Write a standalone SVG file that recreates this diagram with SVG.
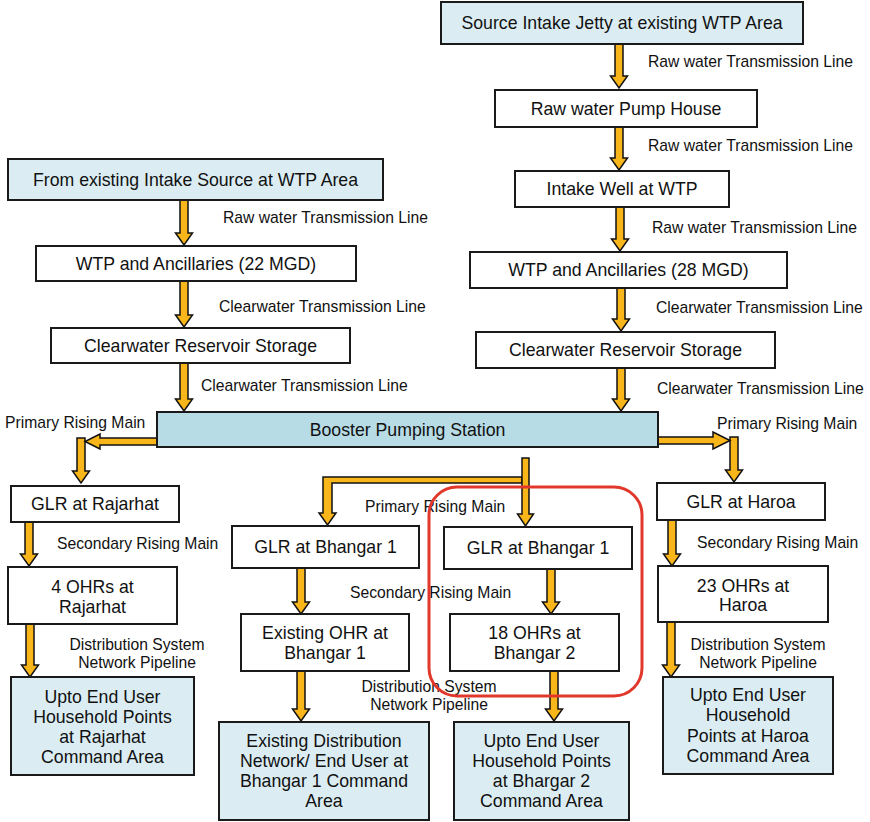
<svg xmlns="http://www.w3.org/2000/svg" width="870" height="822" viewBox="0 0 870 822">
  <style>
    .box { fill: #ffffff; stroke: #1a1a1a; stroke-width: 2; }
    .end { fill: #dbedf3; stroke: #1a1a1a; stroke-width: 2; }
    .hub { fill: #b7dce6; stroke: #1a1a1a; stroke-width: 2; }
    .arr { fill: #f8b61b; stroke: #111111; stroke-width: 1.5; stroke-linejoin: miter; }
    .t { font-family: "Liberation Sans", Arial, sans-serif; font-size: 17.7px; fill: #111111; text-anchor: middle; }
    .lbl { font-family: "Liberation Sans", Arial, sans-serif; font-size: 15.7px; fill: #111111; }
    .mid { text-anchor: middle; }
    .mark { fill: none; stroke: #e1382b; stroke-width: 3; }
  </style>

  <!-- Flow arrows and their labels -->
  <g id="connectors">
    <!-- right supply chain -->
    <polygon class="arr" points="615,44 623,44 623,76 627.5,76 619,88 610.5,76 615,76"/>
    <polygon class="arr" points="615,127 623,127 623,158 627.5,158 619,170 610.5,158 615,158"/>
    <polygon class="arr" points="616,207 624,207 624,239 628.5,239 620,251 611.5,239 616,239"/>
    <polygon class="arr" points="617,288 625,288 625,319 629.5,319 621,331 612.5,319 617,319"/>
    <polygon class="arr" points="617,368 625,368 625,399 629.5,399 621,411 612.5,399 617,399"/>
    <!-- left supply chain -->
    <polygon class="arr" points="180,200 188,200 188,233 192.5,233 184,245 175.5,233 180,233"/>
    <polygon class="arr" points="180,281 188,281 188,315 192.5,315 184,327 175.5,315 180,315"/>
    <polygon class="arr" points="180,363 188,363 188,399 192.5,399 184,411 175.5,399 180,399"/>

    <!-- booster to Rajarhat (elbow) -->
    <polygon class="arr" points="77,438 85,438 85,471 89.5,471 81,483 72.5,471 77,471"/>
    <polygon class="arr" points="157,438 100,438 100,434 85,441.5 100,449 100,445 157,445"/>
    <!-- booster to Haroa (elbow) -->
    <polygon class="arr" points="730,437 738,437 738,470 742.5,470 734,482 725.5,470 730,470"/>
    <polygon class="arr" points="658,437 713,437 713,432 730,440.5 713,449 713,444 658,444"/>
    <!-- booster to both Bhangar GLRs -->
    <polygon class="arr" points="323,477 522,477 522,483 332,483 332,513 336,513 327.5,525 319,513 323,513"/>
    <polygon class="arr" points="522,458 529,458 529,514 533.5,514 525.5,526 517.5,514 522,514"/>

    <!-- Rajarhat branch -->
    <polygon class="arr" points="25,522 33,522 33,554 37.5,554 29,566 20.5,554 25,554"/>
    <polygon class="arr" points="26,624 34,624 34,665 38.5,665 30,677 21.5,665 26,665"/>
    <!-- Bhangar 1 branch -->
    <polygon class="arr" points="297,568 305,568 305,602 309.5,602 301,614 292.5,602 297,602"/>
    <polygon class="arr" points="297,671 305,671 305,709 309.5,709 301,721 292.5,709 297,709"/>
    <!-- Bhangar 2 branch -->
    <polygon class="arr" points="547,569 555,569 555,602 559.5,602 551,614 542.5,602 547,602"/>
    <polygon class="arr" points="550,671 558,671 558,709 562.5,709 554,721 545.5,709 550,709"/>
    <!-- Haroa branch -->
    <polygon class="arr" points="668,520 676,520 676,554 680.5,554 672,566 663.5,554 668,554"/>
    <polygon class="arr" points="667,622 675,622 675,665 679.5,665 671,677 662.5,665 667,665"/>

    <g id="connector-labels">
      <text class="lbl" x="648" y="67">Raw water Transmission Line</text>
      <text class="lbl" x="648" y="151">Raw water Transmission Line</text>
      <text class="lbl" x="652" y="233">Raw water Transmission Line</text>
      <text class="lbl" x="656" y="313">Clearwater Transmission Line</text>
      <text class="lbl" x="657" y="394">Clearwater Transmission Line</text>
      <text class="lbl" x="223" y="223">Raw water Transmission Line</text>
      <text class="lbl" x="219" y="312">Clearwater Transmission Line</text>
      <text class="lbl" x="201" y="391">Clearwater Transmission Line</text>
      <text class="lbl" x="5" y="428">Primary Rising Main</text>
      <text class="lbl" x="717" y="429">Primary Rising Main</text>
      <text class="lbl" x="365" y="512">Primary Rising Main</text>
      <text class="lbl" x="57" y="549">Secondary Rising Main</text>
      <text class="lbl" x="697" y="548">Secondary Rising Main</text>
      <text class="lbl" x="350" y="598">Secondary Rising Main</text>
      <text class="lbl mid" x="137" y="650">Distribution System</text>
      <text class="lbl mid" x="137" y="668">Network Pipeline</text>
      <text class="lbl mid" x="429" y="692">Distribution System</text>
      <text class="lbl mid" x="429" y="710">Network Pipeline</text>
      <text class="lbl mid" x="758" y="650">Distribution System</text>
      <text class="lbl mid" x="758" y="668">Network Pipeline</text>
    </g>
  </g>

  <!-- Right supply chain -->
  <g id="source-intake-jetty">
    <rect class="end" x="441" y="2" width="362" height="42"/>
    <text class="t" x="622" y="29">Source Intake Jetty at existing WTP Area</text>
  </g>
  <g id="raw-water-pump-house">
    <rect class="box" x="495" y="90" width="262" height="37"/>
    <text class="t" x="626" y="115">Raw water Pump House</text>
  </g>
  <g id="intake-well">
    <rect class="box" x="515" y="171" width="214" height="36"/>
    <text class="t" x="622" y="195">Intake Well at WTP</text>
  </g>
  <g id="wtp-28">
    <rect class="box" x="470" y="252" width="317" height="36"/>
    <text class="t" x="628.5" y="276">WTP and Ancillaries (28 MGD)</text>
  </g>
  <g id="clearwater-right">
    <rect class="box" x="476" y="332" width="299" height="36"/>
    <text class="t" x="625.5" y="356">Clearwater Reservoir Storage</text>
  </g>

  <!-- Left supply chain -->
  <g id="existing-intake">
    <rect class="end" x="8" y="159" width="375" height="41"/>
    <text class="t" x="195.5" y="186">From existing Intake Source at WTP Area</text>
  </g>
  <g id="wtp-22">
    <rect class="box" x="36" y="246" width="320" height="35"/>
    <text class="t" x="196" y="270">WTP and Ancillaries (22 MGD)</text>
  </g>
  <g id="clearwater-left">
    <rect class="box" x="51" y="328" width="299" height="35"/>
    <text class="t" x="200.5" y="352">Clearwater Reservoir Storage</text>
  </g>

  <!-- Booster -->
  <g id="booster">
    <rect class="hub" x="157" y="412" width="501" height="35"/>
    <text class="t" x="407.5" y="436">Booster Pumping Station</text>
  </g>

  <!-- Rajarhat -->
  <g id="glr-rajarhat">
    <rect class="box" x="11" y="486" width="168" height="36"/>
    <text class="t" x="95" y="510">GLR at Rajarhat</text>
  </g>
  <g id="ohr-rajarhat">
    <rect class="box" x="8" y="567" width="169" height="57"/>
    <text class="t" x="92.5" y="593">4 OHRs at</text>
    <text class="t" x="92.5" y="613">Rajarhat</text>
  </g>
  <g id="end-rajarhat">
    <rect class="end" x="11" y="677" width="183" height="98"/>
    <text class="t" x="102.5" y="703">Upto End User</text>
    <text class="t" x="102.5" y="723">Household Points</text>
    <text class="t" x="102.5" y="743">at Rajarhat</text>
    <text class="t" x="102.5" y="763">Command Area</text>
  </g>

  <!-- Bhangar 1 -->
  <g id="glr-bhangar1-a">
    <rect class="box" x="232" y="526" width="187" height="42"/>
    <text class="t" x="325.5" y="553">GLR at Bhangar 1</text>
  </g>
  <g id="ohr-bhangar1">
    <rect class="box" x="241" y="614" width="168" height="57"/>
    <text class="t" x="325" y="639">Existing OHR at</text>
    <text class="t" x="325" y="659">Bhangar 1</text>
  </g>
  <g id="end-bhangar1">
    <rect class="end" x="219" y="722" width="210" height="98"/>
    <text class="t" x="324" y="747">Existing Distribution</text>
    <text class="t" x="324" y="767">Network/ End User at</text>
    <text class="t" x="324" y="787">Bhangar 1 Command</text>
    <text class="t" x="324" y="807">Area</text>
  </g>

  <!-- Bhangar 2 -->
  <g id="glr-bhangar1-b">
    <rect class="box" x="444" y="527" width="188" height="42"/>
    <text class="t" x="538" y="554">GLR at Bhangar 1</text>
  </g>
  <g id="ohr-bhangar2">
    <rect class="box" x="450" y="614" width="169" height="57"/>
    <text class="t" x="534.5" y="639">18 OHRs at</text>
    <text class="t" x="534.5" y="659">Bhangar 2</text>
  </g>
  <g id="end-bhangar2">
    <rect class="end" x="454" y="722" width="175" height="98"/>
    <text class="t" x="541.5" y="747">Upto End User</text>
    <text class="t" x="541.5" y="767">Household Points</text>
    <text class="t" x="541.5" y="787">at Bhargar 2</text>
    <text class="t" x="541.5" y="807">Command Area</text>
  </g>

  <!-- Haroa -->
  <g id="glr-haroa">
    <rect class="box" x="657" y="483" width="168" height="37"/>
    <text class="t" x="741" y="508">GLR at Haroa</text>
  </g>
  <g id="ohr-haroa">
    <rect class="box" x="658" y="566" width="170" height="56"/>
    <text class="t" x="743" y="592">23 OHRs at</text>
    <text class="t" x="743" y="611">Haroa</text>
  </g>
  <g id="end-haroa">
    <rect class="end" x="663" y="677" width="170" height="97"/>
    <text class="t" x="748" y="701">Upto End User</text>
    <text class="t" x="748" y="721">Household</text>
    <text class="t" x="748" y="742">Points at Haroa</text>
    <text class="t" x="748" y="762">Command Area</text>
  </g>

  <!-- highlight around the Bhangar 2 works -->
  <g id="highlight">
    <rect class="mark" x="429" y="487" width="213" height="209" rx="28" ry="28"/>
  </g>
</svg>
